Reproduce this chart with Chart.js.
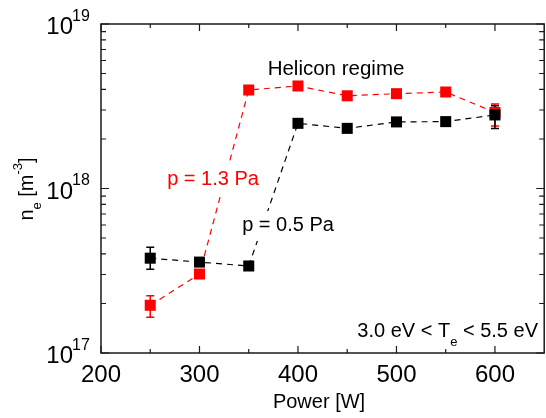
<!DOCTYPE html>
<html>
<head>
<meta charset="utf-8">
<script src="https://cdn.jsdelivr.net/npm/chart.js@4.4.1/dist/chart.umd.min.js"></script>
<style>
  html, body { margin: 0; padding: 0; background: #fff; overflow: hidden; }
  #wrap { position: relative; width: 552px; height: 418px; }
</style>
</head>
<body>
<div id="wrap"><canvas id="chart" width="552" height="418"></canvas></div>
<script>
// RF power [W]
const powers = [250, 300, 350, 400, 450, 500, 550, 600];
// electron density [m^-3]
const densityHighP = [1.95e17, 3.02e17, 3.97e18, 4.2e18, 3.66e18, 3.77e18, 3.86e18, 2.9e18]; // p = 1.3 Pa
const densityLowP = [3.77e17, 3.57e17, 3.38e17, 2.49e18, 2.32e18, 2.54e18, 2.55e18, 2.8e18]; // p = 0.5 Pa
// error bars (null = none shown)
const errHighPLow = [1.65e17, null, null, null, null, null, null, 2.4e18];
const errHighPUp = [2.23e17, null, null, null, null, null, null, 3.26e18];
const errLowPLow = [3.23e17, null, null, null, null, null, null, 2.32e18];
const errLowPUp = [4.39e17, null, null, null, null, null, null, 3.18e18];

const xMajor = [200, 300, 400, 500, 600];
const xMinor = [250, 350, 450, 550];
const yMajor = [1e17, 1e18, 1e19];
const yExp = ['17', '18', '19'];

const FONT = '"Liberation Sans", Arial, Helvetica, sans-serif';
const RED = '#ff0000';
const BLACK = '#000000';

function pts(ys) {
  return powers.map((p, i) => ({ x: p, y: ys[i] }));
}

// draws text pieces in a row; each piece {t, size, dy}
// bg: optional [padX, padY] white box behind the text
function drawRich(ctx, x, y, parts, align, color, bg) {
  let total = 0;
  parts.forEach(p => {
    ctx.font = p.size + 'px ' + FONT;
    p.w = ctx.measureText(p.t).width;
    total += p.w;
  });
  let cx = x;
  if (align === 'center') cx = x - total / 2;
  if (align === 'right') cx = x - total;
  if (bg) {
    ctx.fillStyle = '#fff';
    ctx.fillRect(cx - bg[0], y - 14 - bg[1], total + 2 * bg[0], 18 + 2 * bg[1]);
  }
  ctx.fillStyle = color;
  ctx.textAlign = 'left';
  ctx.textBaseline = 'alphabetic';
  parts.forEach(p => {
    ctx.font = p.size + 'px ' + FONT;
    ctx.fillText(p.t, cx, y + (p.dy || 0));
    cx += p.w;
  });
}

const errorBars = {
  id: 'errorBars',
  beforeDatasetsDraw(chart) {
    const ctx = chart.ctx;
    const xs = chart.scales.x, ys = chart.scales.y;
    const sets = [
      { lo: errHighPLow, hi: errHighPUp, color: RED },
      { lo: errLowPLow, hi: errLowPUp, color: BLACK }
    ];
    ctx.save();
    ctx.lineWidth = 1.5;
    sets.forEach(s => {
      ctx.strokeStyle = s.color;
      powers.forEach((p, i) => {
        if (s.lo[i] == null) return;
        const x = xs.getPixelForValue(p);
        const y1 = ys.getPixelForValue(s.lo[i]);
        const y2 = ys.getPixelForValue(s.hi[i]);
        ctx.beginPath();
        ctx.moveTo(x, y1); ctx.lineTo(x, y2);
        ctx.moveTo(x - 4, y1); ctx.lineTo(x + 4, y1);
        ctx.moveTo(x - 4, y2); ctx.lineTo(x + 4, y2);
        ctx.stroke();
      });
    });
    ctx.restore();
  }
};

const labels = {
  id: 'labels',
  afterDatasetsDraw(chart) {
    const ctx = chart.ctx;
    ctx.save();
    drawRich(ctx, 336, 75, [{ t: 'Helicon regime', size: 20.5 }], 'center', '#000');
    drawRich(ctx, 213, 185, [{ t: 'p = 1.3 Pa', size: 20 }], 'center', RED, [2, 8]);
    drawRich(ctx, 288, 231, [{ t: 'p = 0.5 Pa', size: 20 }], 'center', '#000', [2, 6]);
    drawRich(ctx, 538, 337, [
      { t: '3.0 eV < T', size: 20 },
      { t: 'e', size: 13, dy: 9 },
      { t: ' < 5.5 eV', size: 20 }
    ], 'right', '#000');
    ctx.restore();
  }
};

const frame = {
  id: 'frame',
  afterDraw(chart) {
    const ctx = chart.ctx;
    const a = chart.chartArea;
    const xs = chart.scales.x, ys = chart.scales.y;
    ctx.save();
    ctx.strokeStyle = '#1a1a1a';
    ctx.lineWidth = 1.5;
    ctx.strokeRect(a.left, a.top, a.right - a.left, a.bottom - a.top);

    ctx.lineWidth = 1.2;
    ctx.beginPath();
    xMajor.forEach(v => {
      const x = xs.getPixelForValue(v);
      ctx.moveTo(x, a.bottom); ctx.lineTo(x, a.bottom - 7);
      ctx.moveTo(x, a.top); ctx.lineTo(x, a.top + 7);
    });
    xMinor.forEach(v => {
      const x = xs.getPixelForValue(v);
      ctx.moveTo(x, a.bottom); ctx.lineTo(x, a.bottom - 4);
      ctx.moveTo(x, a.top); ctx.lineTo(x, a.top + 4);
    });
    yMajor.forEach(v => {
      const y = ys.getPixelForValue(v);
      ctx.moveTo(a.left, y); ctx.lineTo(a.left + 8, y);
      ctx.moveTo(a.right, y); ctx.lineTo(a.right - 8, y);
    });
    [1e17, 1e18].forEach(d => {
      for (let m = 2; m <= 9; m++) {
        const y = ys.getPixelForValue(d * m);
        ctx.moveTo(a.left, y); ctx.lineTo(a.left + 5, y);
        ctx.moveTo(a.right, y); ctx.lineTo(a.right - 5, y);
      }
    });
    ctx.stroke();

    // x tick labels
    ctx.fillStyle = '#000';
    ctx.font = '24px ' + FONT;
    ctx.textAlign = 'center';
    ctx.textBaseline = 'alphabetic';
    xMajor.forEach(v => {
      ctx.fillText(String(v), xs.getPixelForValue(v), 382);
    });

    // y tick labels 10^n
    yMajor.forEach((v, i) => {
      const y = ys.getPixelForValue(v);
      ctx.font = '24px ' + FONT;
      ctx.textAlign = 'right';
      ctx.fillText('10', 73, y + 10);
      ctx.font = '16px ' + FONT;
      ctx.textAlign = 'left';
      ctx.fillText(yExp[i], 72, y - 3.5);
    });

    // axis titles
    drawRich(ctx, 319, 408, [{ t: 'Power [W]', size: 20 }], 'center', '#000');
    ctx.save();
    ctx.translate(33, 189);
    ctx.rotate(-Math.PI / 2);
    drawRich(ctx, 0, 0, [
      { t: 'n', size: 20 },
      { t: 'e', size: 13, dy: 8 },
      { t: ' [m', size: 20 },
      { t: '-3', size: 13, dy: -11 },
      { t: ']', size: 20 }
    ], 'center', '#000');
    ctx.restore();
    ctx.restore();
  }
};

new Chart(document.getElementById('chart').getContext('2d'), {
  type: 'line',
  data: {
    datasets: [
      {
        label: 'p = 0.5 Pa',
        data: pts(densityLowP),
        borderColor: BLACK,
        backgroundColor: BLACK,
        borderWidth: 1.2,
        borderDash: [6, 5],
        pointStyle: 'rect',
        pointRadius: 7.8,
        pointBorderWidth: 0,
        clip: false
      },
      {
        label: 'p = 1.3 Pa',
        data: pts(densityHighP),
        borderColor: RED,
        backgroundColor: RED,
        borderWidth: 1.2,
        borderDash: [6, 5],
        pointStyle: 'rect',
        pointRadius: 7.8,
        pointBorderWidth: 0,
        clip: false
      }
    ]
  },
  options: {
    responsive: false,
    animation: false,
    layout: { padding: { left: 101, top: 24, right: 4, bottom: 65 } },
    plugins: { legend: { display: false }, tooltip: { enabled: false } },
    scales: {
      x: { type: 'linear', min: 200, max: 650, display: false },
      y: { type: 'logarithmic', min: 1e17, max: 1e19, display: false }
    }
  },
  plugins: [errorBars, labels, frame]
});
</script>
</body>
</html>
